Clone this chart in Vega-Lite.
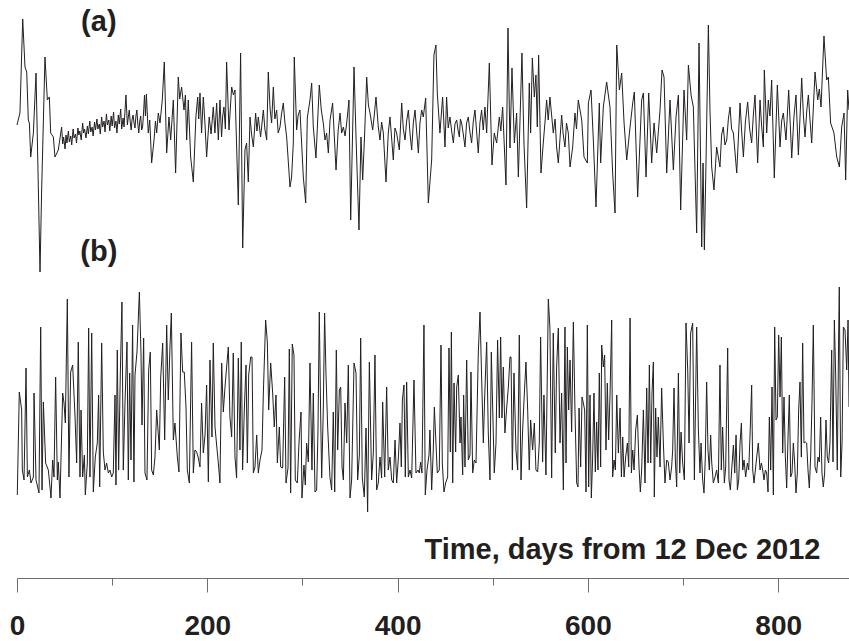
{
 "$schema": "https://vega.github.io/schema/vega-lite/v6.json",
 "width": 832, "height": 578,
 "autosize": {"type": "none"},
 "padding": {"left": 17, "top": 0, "right": 0, "bottom": 63},
 "background": "white",
 "config": {"view": {"stroke": null}},
 "datasets": {
  "a": [
   {"t":0,"v":0},{"t":3.1,"v":1.2},{"t":6,"v":10.6},{"t":8.4,"v":5.8},{"t":10.2,"v":5.3},{"t":11.9,"v":0.5},{"t":13,"v":0.2},{"t":14.4,"v":-3.2},{"t":17.2,"v":-0.8},{"t":20,"v":5.2},{"t":22.4,"v":-6.2},{"t":24.2,"v":-14.7},{"t":25.9,"v":-6.5},{"t":29.4,"v":6.8},{"t":31.9,"v":2.5},{"t":34,"v":2.8},{"t":35.4,"v":-0.8},{"t":38.2,"v":-1.2},{"t":39.9,"v":-3.2},{"t":43.4,"v":-2.5},{"t":46.9,"v":-0.2},
   {"t":48,"v":-1.9},{"t":49,"v":-1.2},{"t":50.5,"v":-2.4},{"t":51.5,"v":-1.0},{"t":52.5,"v":-1.8},{"t":54,"v":-0.6},{"t":55,"v":-1.7},{"t":56.5,"v":-1.1},{"t":57.5,"v":-2.0},{"t":59,"v":-0.4},{"t":60,"v":-1.3},{"t":61.5,"v":-0.9},{"t":62.5,"v":-1.8},{"t":64,"v":-0.3},{"t":65,"v":-1.0},{"t":66,"v":-0.6},{"t":67.5,"v":-1.5},{"t":69,"v":0.2},{"t":70,"v":-0.8},{"t":71,"v":-0.4},{"t":72.5,"v":-1.3},{"t":74,"v":-0.1},{"t":75,"v":-0.9},{"t":76.5,"v":0.4},{"t":77.5,"v":-0.7},{"t":79,"v":-0.2},{"t":80,"v":-1.1},{"t":81.5,"v":0.3},{"t":82.5,"v":-0.5},{"t":84,"v":0.6},{"t":85,"v":-0.4},{"t":86.5,"v":0.1},{"t":87.5,"v":-0.9},{"t":89,"v":0.8},{"t":90,"v":-0.2},{"t":91.5,"v":0.4},{"t":92.5,"v":-0.7},{"t":94,"v":1.1},{"t":95,"v":0.0},{"t":96.5,"v":0.5},{"t":97.5,"v":-0.6},{"t":99,"v":0.9},{"t":100,"v":-0.1},{"t":101.5,"v":1.3},{"t":102.5,"v":-0.3},{"t":104,"v":0.4},{"t":105,"v":-0.8},{"t":106.5,"v":1.0},{"t":107.5,"v":0.1},{"t":109,"v":1.6},{"t":110,"v":-0.4},{"t":111.5,"v":0.7},{"t":112.5,"v":-0.2},{"t":114.5,"v":3.0},
   {"t":116,"v":0.0},{"t":117,"v":0.8},{"t":118,"v":1.5},{"t":119,"v":0.3},{"t":120,"v":-0.5},{"t":121,"v":0.6},{"t":122,"v":1.0},{"t":123,"v":0.2},{"t":124,"v":-0.3},{"t":125,"v":0.9},{"t":126,"v":1.5},{"t":127,"v":0.1},{"t":128,"v":-0.8},{"t":129,"v":0.4},{"t":130,"v":0.9},{"t":131,"v":-0.5},{"t":132,"v":-0.2},{"t":133,"v":1.2},{"t":134,"v":3.0},{"t":135,"v":0.9},{"t":136,"v":3.1},{"t":137,"v":1.0},{"t":138,"v":-0.8},{"t":139.5,"v":0.5},
   {"t":141.5,"v":-3.8},{"t":144,"v":-1.5},{"t":145.5,"v":0.4},{"t":146.8,"v":-0.8},{"t":148.5,"v":1.2},{"t":150.3,"v":0.2},{"t":152.7,"v":2.5},{"t":154.8,"v":6.3},{"t":157.3,"v":-2.8},{"t":159.7,"v":0.8},{"t":161.5,"v":-1.5},{"t":164.3,"v":2.5},{"t":166.7,"v":-4.8},{"t":169.5,"v":4.8},{"t":171,"v":2.6},{"t":173,"v":3.8},{"t":175.5,"v":1.5},{"t":177,"v":3.0},{"t":178.3,"v":-1.5},{"t":180,"v":2.5},{"t":182.5,"v":-3.2},{"t":185.3,"v":-5.7},{"t":188,"v":0.8},{"t":189.9,"v":2.8},{"t":191,"v":0.6},{"t":192.3,"v":3.2},{"t":194,"v":-0.8},{"t":195.8,"v":2.8},{"t":197.5,"v":0.2},{"t":199.3,"v":-3.2},{"t":202,"v":0.8},{"t":204,"v":-0.9},{"t":206.3,"v":1.8},{"t":208,"v":-0.8},{"t":209.8,"v":2.2},{"t":211.6,"v":-1.5},{"t":213.3,"v":2.5},{"t":215,"v":-1.2},{"t":216.2,"v":0.9},{"t":217.5,"v":1.8},{"t":219,"v":-0.4},{"t":220.3,"v":6.3},{"t":222.8,"v":-0.5},{"t":225.6,"v":3.8},{"t":227.5,"v":3.0},{"t":229.1,"v":3.5},{"t":232.6,"v":-8},{"t":235,"v":7.2},{"t":237.2,"v":-12.3},{"t":239.6,"v":-2.5},{"t":241.3,"v":-1.8},{"t":243.1,"v":-5.7},{"t":244.9,"v":0.8},{"t":246.5,"v":-0.9},{"t":248.4,"v":-2.2},{"t":250.8,"v":1.2},{"t":252.2,"v":-0.6},{"t":253.6,"v":0.8},{"t":256,"v":-1.2},{"t":258.9,"v":1.5},{"t":260.5,"v":-0.4},{"t":262.4,"v":-1.5},{"t":264.1,"v":5.3},{"t":266,"v":1.6},{"t":267.6,"v":0.2},{"t":269.4,"v":3.8},{"t":271,"v":0.6},{"t":272.9,"v":1.5},{"t":274.5,"v":-0.8},{"t":276.4,"v":-0.2},{"t":278,"v":1.1},{"t":279.9,"v":2.2},{"t":281.5,"v":0.3},{"t":283.4,"v":-1.2},{"t":286.9,"v":-6.2},{"t":288.6,"v":-5.2},{"t":290.4,"v":-1.8},{"t":291.4,"v":6.8},{"t":293.9,"v":-0.5},{"t":295.5,"v":1.0},
   {"t":297.4,"v":1.5},{"t":300.9,"v":-5.2},{"t":303.4,"v":-7.8},{"t":305.1,"v":0.7},{"t":307.9,"v":2.5},{"t":309.7,"v":4.2},{"t":311.4,"v":-0.2},{"t":314.2,"v":-3.3},{"t":317.7,"v":4.0},{"t":319.8,"v":1.5},{"t":321.9,"v":0.2},{"t":323.7,"v":-1.5},{"t":325.4,"v":-0.8},{"t":327.2,"v":-2.8},{"t":329,"v":0.5},{"t":331.7,"v":2.2},{"t":335.3,"v":-4.5},{"t":337.5,"v":-0.6},{"t":339.5,"v":1.2},{"t":341.2,"v":-0.8},{"t":343,"v":-0.2},{"t":344.8,"v":-1.1},{"t":346.5,"v":0.2},{"t":348.9,"v":2.5},{"t":350.7,"v":-9.5},{"t":354.2,"v":5.8},{"t":356.3,"v":-1.2},{"t":359.4,"v":-10.5},{"t":361.5,"v":-1.2},{"t":363.3,"v":-5.5},{"t":365.4,"v":-0.8},{"t":367.5,"v":4.8},{"t":369.3,"v":2.0},{"t":371,"v":1.2},{"t":373.8,"v":-0.5},{"t":375.5,"v":1.0},{"t":377.3,"v":2.8},{"t":379.7,"v":-0.2},{"t":381.5,"v":-1.5},{"t":383.2,"v":0.3},{"t":385,"v":-0.8},{"t":387.8,"v":-5.7},{"t":390.2,"v":-0.8},{"t":392,"v":0.8},{"t":395.5,"v":-3.5},{"t":397.2,"v":-0.3},{"t":399,"v":-0.8},{"t":401.8,"v":-2.5},{"t":404.3,"v":2.2},{"t":406,"v":-0.4},{"t":407.8,"v":-1.5},{"t":409.5,"v":0.4},{"t":411.3,"v":1.5},{"t":413,"v":-0.8},{"t":414.8,"v":-2.5},{"t":416.5,"v":0.2},{"t":418.3,"v":1.5},{"t":420,"v":-0.6},{"t":421.8,"v":-2.8},{"t":423.5,"v":0.2},{"t":425.3,"v":1.5},{"t":427,"v":0.8},{"t":429.5,"v":2.7},{"t":432.3,"v":-7.8},{"t":435.8,"v":-3.5},{"t":438.2,"v":7},{"t":440.3,"v":8},{"t":441.7,"v":3.2},{"t":444.5,"v":-0.8},{"t":447.3,"v":2.8},{"t":449.8,"v":-2.2},{"t":451.5,"v":2.8},{"t":453.2,"v":-0.3},{"t":455,"v":0.8},{"t":456.8,"v":-0.6},{"t":458.6,"v":-1.8},{"t":460.3,"v":0.1},{"t":462.1,"v":0.5},{"t":463.5,"v":-0.5},{"t":464.9,"v":-1.2},{"t":466,"v":0.6},{"t":467.3,"v":0.2},{"t":469,"v":-0.9},{"t":470.8,"v":-2.2},{"t":472.5,"v":0.2},{"t":474.3,"v":0.8},{"t":476,"v":-0.7},{"t":477.8,"v":-1.8},{"t":479.5,"v":0.3},{"t":481.3,"v":1.5},{"t":483,"v":-0.6},{"t":484.8,"v":-2.8},{"t":486.5,"v":0.2},{"t":488.3,"v":1.5},{"t":490,"v":-0.5},{"t":491.8,"v":1.8},{"t":493.6,"v":-0.8},{"t":496.4,"v":6.2},{"t":499.2,"v":-4},{"t":501.6,"v":-0.8},{"t":504.1,"v":-1.8},{"t":506.9,"v":0.8},{"t":508.5,"v":-0.6},{"t":510.4,"v":1.8},{"t":513.9,"v":-6},{"t":516,"v":9.7},{"t":518.1,"v":-2.3},{"t":520.2,"v":5.7},{"t":522.7,"v":-1.8},{"t":525.1,"v":1.2},{"t":526.9,"v":-5.2},{"t":530.7,"v":7.2},{"t":532.8,"v":-1.8},{"t":535.6,"v":-8.3},{"t":538.4,"v":4.2},{"t":539.8,"v":-0.8},{"t":541.6,"v":6.7},{"t":543.7,"v":2.8},{"t":545.4,"v":5},{"t":546.8,"v":-0.2},{"t":548.2,"v":7},{"t":550.7,"v":-4.8},{"t":553.1,"v":-1.8},{"t":555,"v":0.4},{"t":556.6,"v":2.5},{"t":558.3,"v":0.5},{"t":560.1,"v":2.8},{"t":563.6,"v":-0.8},{"t":565.5,"v":0.6},{"t":567.1,"v":-2.2},{"t":568.9,"v":-3.8},{"t":572.4,"v":1},{"t":574,"v":-0.9},{"t":575.9,"v":-2.2},{"t":577.5,"v":0.2},{"t":579.4,"v":-0.8},{"t":581.2,"v":-4.2},{"t":584,"v":-2.2},{"t":586.4,"v":1.2},{"t":588,"v":-0.4},{"t":589.9,"v":2.5},
   {"t":593.5,"v":0.5},{"t":595.9,"v":-3.2},{"t":599.4,"v":-3.8},{"t":600.5,"v":2.2},{"t":603.3,"v":3.5},{"t":605.7,"v":-1.5},{"t":608.5,"v":-8.2},{"t":612,"v":2.2},{"t":613.4,"v":-3.8},{"t":616.2,"v":1.8},{"t":619.7,"v":4.3},{"t":623.2,"v":1.8},{"t":626,"v":-4.8},{"t":628.5,"v":-8.8},{"t":630.3,"v":8},{"t":633.1,"v":3.5},{"t":635.5,"v":5.2},{"t":638,"v":0.2},{"t":640.8,"v":-3.5},{"t":644.3,"v":-0.2},{"t":647.1,"v":2.2},{"t":648.8,"v":3.3},{"t":652.3,"v":-7.2},{"t":656.5,"v":2.5},{"t":658.3,"v":3.2},{"t":661.1,"v":-5.2},{"t":663.9,"v":3.2},{"t":667,"v":-3.8},{"t":669.5,"v":0.2},{"t":672.3,"v":-2.8},{"t":675.8,"v":1.5},{"t":677.9,"v":5.5},{"t":680,"v":4.8},{"t":682.8,"v":-4.8},{"t":686.3,"v":2.5},{"t":689.8,"v":-4.5},{"t":692.6,"v":0.8},{"t":695.1,"v":3},{"t":697.5,"v":-8.5},{"t":701,"v":3.5},{"t":703.8,"v":-1.5},{"t":705.6,"v":6},{"t":708.4,"v":3},{"t":710.8,"v":1.8},{"t":714.3,"v":-10.8},{"t":716.8,"v":8.2},{"t":719.6,"v":-12.2},{"t":721,"v":-3.8},{"t":722.4,"v":-12.5},{"t":724.1,"v":-3.8},{"t":726.6,"v":10},{"t":728.3,"v":1.5},{"t":730.1,"v":-4.2},{"t":732.5,"v":-6.5},{"t":735.3,"v":-2.2},{"t":738.8,"v":-4.2},{"t":740.5,"v":-1.0},{"t":742.3,"v":-0.2},{"t":744,"v":-2.0},{"t":745.9,"v":-1.5},{"t":747.6,"v":0.6},{"t":749.4,"v":1.8},{"t":751,"v":-0.4},{"t":752.9,"v":-0.8},{"t":756.4,"v":-4.8},{"t":759.9,"v":2.2},{"t":761.5,"v":-0.5},{"t":763.4,"v":-3.2},{"t":765.5,"v":0.3},{"t":767.9,"v":2.3},{"t":770,"v":-0.4},{"t":772.1,"v":-1.8},{"t":773.8,"v":0.9},{"t":775.6,"v":3},{"t":778.4,"v":-3.8},{"t":780.9,"v":2.5},{"t":782.5,"v":0.0},{"t":784.4,"v":-2.2},{"t":785.4,"v":5.5},{"t":787.9,"v":-0.8},{"t":789.6,"v":2.5},{"t":791.3,"v":0.9},{"t":793.1,"v":4.5},{"t":795.9,"v":-5.3},{"t":799.1,"v":4},{"t":801.9,"v":-2.2},{"t":803.6,"v":0.4},{"t":805.4,"v":1.2},{"t":808.2,"v":-1.5},{"t":811,"v":3.5},{"t":812.6,"v":0.2},{"t":814.2,"v":-3.3},{"t":816.5,"v":0.8},{"t":818.7,"v":3},{"t":821.2,"v":-3},{"t":824.7,"v":4.7},{"t":826.5,"v":0.9},{"t":828.2,"v":-1.2},{"t":830,"v":1.4},{"t":831.7,"v":3},{"t":833.5,"v":0.4},{"t":835.2,"v":-1.8},{"t":838.7,"v":5.3},{"t":841.5,"v":2.5},{"t":843.2,"v":3.6},{"t":845,"v":1.8},{"t":848.1,"v":8.9},{"t":850.9,"v":4.5},{"t":852.7,"v":4.8},{"t":855.1,"v":0.2},{"t":858.6,"v":-0.8},{"t":861.5,"v":-3.2},{"t":864.3,"v":-4.2},{"t":866.7,"v":-0.2},{"t":869.2,"v":1.2},{"t":870.9,"v":-5.5},{"t":873,"v":3.5},{"t":874.4,"v":1.5}
  ],
  "b": [
   {"t":0.3,"v":0.5},{"t":2.4,"v":10.8},{"t":4.9,"v":9},{"t":5.6,"v":3},{"t":7.4,"v":2},{"t":9.5,"v":13.2},{"t":10.9,"v":2.3},{"t":13,"v":3},{"t":14.7,"v":1.7},{"t":17.2,"v":2.3},{"t":17.9,"v":10.7},{"t":20,"v":2},{"t":21.7,"v":1.3},{"t":23.1,"v":0.7},{"t":24.9,"v":17.3},{"t":26.3,"v":1},{"t":27.7,"v":9.8},{"t":30.1,"v":3.7},{"t":32.9,"v":3},{"t":34.7,"v":1.3},{"t":35.7,"v":0.2},{"t":37.5,"v":4},{"t":38.9,"v":2.3},{"t":40.6,"v":12.3},{"t":42.4,"v":2},{"t":43.4,"v":3.8},{"t":45.2,"v":0.2},{"t":48,"v":10.7},{"t":49.4,"v":9.7},{"t":50.8,"v":7.7},{"t":52.9,"v":20.1},{"t":54.6,"v":2.3},{"t":56.4,"v":12.8},{"t":58.5,"v":13.5},{"t":61,"v":8.3},{"t":62.7,"v":3.7},{"t":64.4,"v":15.8},{"t":66.2,"v":2.3},{"t":67.3,"v":9},{"t":69,"v":2.3},{"t":70.8,"v":4.5},{"t":71.8,"v":0.5},{"t":73.9,"v":3.7},{"t":75.3,"v":17.2},{"t":76.7,"v":2.3},{"t":78.5,"v":16.7},{"t":80.2,"v":0.8},{"t":82.3,"v":4.3},{"t":84.4,"v":5.7},{"t":85.8,"v":10.5},{"t":86.9,"v":1.3},{"t":89,"v":15.7},{"t":90.7,"v":4.8},{"t":92.5,"v":3},{"t":94.2,"v":3.7},{"t":96,"v":2.7},{"t":97.7,"v":3},{"t":99.5,"v":2.3},{"t":101.2,"v":2.7},{"t":103,"v":10.5},{"t":104,"v":1.5},{"t":105.4,"v":15},{"t":106.8,"v":3},{"t":108.6,"v":12.7},{"t":110.3,"v":19.8},{"t":111.7,"v":3},{"t":113.5,"v":9.7},{"t":115.6,"v":15.8},{"t":117,"v":2},{"t":118.4,"v":12.7},{"t":119.8,"v":4},{"t":121.5,"v":17.5},{"t":122.9,"v":1.8},{"t":124,"v":12.5},{"t":126.1,"v":14.8},{"t":128.6,"v":20.8},{"t":130.3,"v":14.7},{"t":131.4,"v":7.5},{"t":133.1,"v":16.2},{"t":134.5,"v":2.7},{"t":136.6,"v":2},{"t":138.4,"v":13},{"t":140.1,"v":14.8},{"t":141.5,"v":3},{"t":143.3,"v":2.5},{"t":145,"v":4.3},{"t":146.8,"v":9},{"t":149.6,"v":5},{"t":151,"v":12.2},{"t":153.1,"v":15.7},{"t":155.2,"v":6},{"t":157.3,"v":17.5},{"t":159,"v":10},{"t":160.8,"v":15.4},{"t":162.2,"v":18.7},{"t":164.3,"v":6},{"t":166,"v":7.7},{"t":168.5,"v":4.3},{"t":170.2,"v":2.8},{"t":172.3,"v":16.7},{"t":174.1,"v":12.8},{"t":175.8,"v":12.8},{"t":177.6,"v":9.3},{"t":179,"v":3},{"t":181.1,"v":1.7},{"t":183.5,"v":15.8},{"t":185.3,"v":2.7},{"t":187,"v":5},{"t":188.8,"v":4.8},{"t":190.6,"v":4.2},{"t":192.3,"v":3.3},{"t":194,"v":9.7},{"t":195.8,"v":4.7},{"t":197.6,"v":6.5},{"t":199.3,"v":11.5},{"t":201.1,"v":1.8},{"t":202.8,"v":14},{"t":204.9,"v":6.3},{"t":206.3,"v":15.7},{"t":208.1,"v":7.3},{"t":209.8,"v":5.5},{"t":211.6,"v":3.7},{"t":213.3,"v":1.7},{"t":215.1,"v":13.7},{"t":216.8,"v":8.8},{"t":218.6,"v":11.3},{"t":220.3,"v":13.3},{"t":222.1,"v":15.3},{"t":223.8,"v":8.3},{"t":225.6,"v":6.3},{"t":227.3,"v":14.7},{"t":229.1,"v":4.3},{"t":230.8,"v":2.2},{"t":232.6,"v":14.2},{"t":234.3,"v":5},{"t":235.7,"v":15.8},{"t":237.1,"v":3},{"t":238.9,"v":9},{"t":240.7,"v":13.5},{"t":242.1,"v":3.7},{"t":243.5,"v":12.5},{"t":245.6,"v":14.3},{"t":247,"v":14.3},{"t":248.4,"v":2.7},{"t":250.1,"v":3.3},{"t":251.9,"v":6.5},{"t":253.6,"v":2.7},{"t":255.4,"v":4},{"t":257.5,"v":5},{"t":258.9,"v":10.7},{"t":261.3,"v":18},{"t":263.1,"v":15.8},{"t":264.5,"v":9},{"t":266.6,"v":13.7},{"t":268.7,"v":10.7},{"t":270.4,"v":7.3},{"t":272.2,"v":10.5},{"t":273.6,"v":3.7},{"t":275.7,"v":7.3},{"t":277.1,"v":3.3},{"t":279.2,"v":3.2},{"t":281.3,"v":12.3},{"t":282.7,"v":1.7},{"t":284.8,"v":3.2},{"t":286.2,"v":15.1},{"t":287.6,"v":0.7},{"t":289.3,"v":15.6},{"t":291.1,"v":14.5},{"t":292.5,"v":2},{"t":294.6,"v":1.7},{"t":296.4,"v":5.8},
   {"t":298.5,"v":8.8},{"t":299.5,"v":0.2},{"t":301.6,"v":3.5},{"t":303,"v":1.5},{"t":304.4,"v":5.7},{"t":306.2,"v":3.8},{"t":307.9,"v":13.7},{"t":310,"v":3},{"t":311.4,"v":10.7},{"t":313.2,"v":0.8},{"t":314.9,"v":1},{"t":316.3,"v":6.8},{"t":317.7,"v":18.8},{"t":319.1,"v":8.8},{"t":320.2,"v":2.2},{"t":321.9,"v":9},{"t":323.3,"v":18.7},{"t":324.7,"v":12.7},{"t":326.5,"v":7.3},{"t":328.9,"v":2.3},{"t":330.7,"v":1},{"t":332.4,"v":8.8},{"t":333.9,"v":0.8},{"t":335.6,"v":15},{"t":337,"v":5},{"t":338.8,"v":11},{"t":340.2,"v":11.3},{"t":341.6,"v":3.3},{"t":343,"v":2},{"t":344.7,"v":9.7},{"t":346.5,"v":5.7},{"t":348.2,"v":13.5},{"t":350,"v":0.2},{"t":351.7,"v":2},{"t":354.2,"v":13.7},{"t":356.3,"v":12.7},{"t":358,"v":2},{"t":359.8,"v":4.5},{"t":361.2,"v":16.2},{"t":362.9,"v":2.2},{"t":365,"v":0.3},{"t":366.8,"v":7.2},{"t":368.5,"v":-1.2},{"t":370.3,"v":13.8},{"t":372.7,"v":2},{"t":374.5,"v":4.7},{"t":376.2,"v":14.5},{"t":378,"v":1},{"t":379.7,"v":1.7},{"t":381.5,"v":4.3},{"t":383.2,"v":2.2},{"t":384.3,"v":9.8},{"t":386.4,"v":2.3},{"t":388.5,"v":11.3},{"t":390.2,"v":3},{"t":392,"v":4.3},{"t":393.8,"v":2},{"t":395.5,"v":1.7},{"t":397.3,"v":6},{"t":399,"v":1.7},{"t":400.8,"v":4.2},{"t":402.5,"v":7.7},{"t":403.9,"v":3.3},{"t":405,"v":10},{"t":406.7,"v":11.5},{"t":408.1,"v":2.3},{"t":409.5,"v":11.8},{"t":411.3,"v":2.3},{"t":413,"v":3},{"t":414.8,"v":2.2},{"t":417.2,"v":12},{"t":419.3,"v":2.7},{"t":421.4,"v":3},{"t":422.8,"v":2.7},{"t":424.2,"v":3.8},{"t":425.6,"v":2.7},{"t":427.7,"v":17.5},{"t":429.1,"v":0.5},{"t":430.9,"v":3},{"t":433,"v":4.5},{"t":434,"v":7},{"t":435.8,"v":1},{"t":437.5,"v":5},{"t":438.6,"v":9.3},{"t":440.3,"v":5.7},{"t":441.7,"v":2.7},{"t":443.8,"v":3},{"t":445.6,"v":15.5},{"t":447,"v":3.7},{"t":448.7,"v":0.8},{"t":450.5,"v":1.7},{"t":452.6,"v":2.3},{"t":454,"v":15.2},{"t":455.4,"v":4.8},{"t":456.5,"v":16.8},{"t":457.9,"v":1.7},{"t":459.3,"v":11.7},{"t":461,"v":4.8},{"t":462.1,"v":11.3},{"t":463.8,"v":12.5},{"t":465.6,"v":5.7},{"t":466.6,"v":8.3},{"t":468.4,"v":2.5},{"t":469.4,"v":10.5},{"t":470.8,"v":3.3},{"t":472.6,"v":14},{"t":474.3,"v":4},{"t":476.1,"v":4.5},{"t":477.1,"v":12.8},{"t":478.9,"v":2.7},{"t":480.6,"v":4},{"t":482.4,"v":3.7},{"t":484.8,"v":14.7},{"t":486.6,"v":18.8},{"t":488.3,"v":12.3},{"t":490.1,"v":5.7},{"t":491.5,"v":10.3},{"t":493.6,"v":15.8},{"t":495.3,"v":6.7},{"t":497.1,"v":2},{"t":498.5,"v":14.8},{"t":499.9,"v":9.3},{"t":501.6,"v":2.7},{"t":503.4,"v":5.7},{"t":505.1,"v":16},{"t":506.9,"v":8.2},{"t":508.3,"v":16.3},{"t":509.7,"v":8.2},{"t":511.1,"v":13.3},{"t":512.8,"v":6.7},{"t":514.6,"v":9.2},{"t":516.4,"v":11.3},{"t":518.1,"v":14.3},{"t":519.2,"v":14.3},{"t":520.6,"v":3},{"t":522.3,"v":12.7},{"t":524.4,"v":5},{"t":526.2,"v":3},{"t":527.9,"v":16.5},{"t":529.7,"v":2},{"t":531.4,"v":7},{"t":533.2,"v":10.7},{"t":534.9,"v":13.8},{"t":536.7,"v":9},{"t":538.4,"v":3},{"t":539.8,"v":8},{"t":541.9,"v":5},{"t":543.7,"v":7.7},{"t":545.4,"v":3},{"t":547.2,"v":2.8},{"t":548.9,"v":5.7},{"t":550.3,"v":16.3},{"t":552.4,"v":3.8},{"t":553.8,"v":10.5},{"t":555.9,"v":2.5},{"t":558.4,"v":20.1},{"t":560.1,"v":17.2},{"t":561.9,"v":2.2},{"t":563.6,"v":16.7},{"t":565.7,"v":4.7},{"t":567.1,"v":13.3},{"t":568.9,"v":17.2},{"t":570.7,"v":5.7},{"t":572.4,"v":10.7},{"t":574.2,"v":1},{"t":575.9,"v":17.3},{"t":577,"v":3.7},{"t":578.4,"v":15.3},{"t":579.8,"v":9},{"t":581.2,"v":14},{"t":582.9,"v":6.8},{"t":584.7,"v":17.8},{"t":586.4,"v":9},{"t":588.2,"v":1.7},{"t":589.6,"v":1.3},{"t":590.7,"v":9.2},
   {"t":592.4,"v":3.3},{"t":593.8,"v":10.3},{"t":595.2,"v":9.7},{"t":596.6,"v":9},{"t":598,"v":0.8},{"t":599.4,"v":17.5},{"t":600.8,"v":1.3},{"t":602.2,"v":10.5},{"t":603.6,"v":0.2},{"t":605,"v":4.3},{"t":606.4,"v":10.7},{"t":607.8,"v":2.8},{"t":609.2,"v":7.8},{"t":610.6,"v":3},{"t":612,"v":12.7},{"t":613.4,"v":3.3},{"t":614.5,"v":15.5},{"t":616.2,"v":13.3},{"t":617.6,"v":14.5},{"t":619,"v":5},{"t":620.4,"v":11.7},{"t":621.8,"v":6},{"t":623.2,"v":10.3},{"t":625,"v":18},{"t":626,"v":2.3},{"t":627.5,"v":4},{"t":628.9,"v":3},{"t":630.3,"v":10.5},{"t":632,"v":4.7},{"t":633.8,"v":9.2},{"t":635.2,"v":2.3},{"t":636.6,"v":6.3},{"t":638,"v":2.3},{"t":639.7,"v":4.3},{"t":641.5,"v":5.7},{"t":642.9,"v":3.3},{"t":644.3,"v":18.2},{"t":645.7,"v":2.7},{"t":647.1,"v":5},{"t":648.5,"v":3},{"t":650.2,"v":7},{"t":652,"v":8.5},{"t":653.7,"v":3.3},{"t":655.1,"v":0.8},{"t":656.5,"v":3},{"t":658.3,"v":9},{"t":660,"v":1.7},{"t":661.8,"v":11.2},{"t":663.2,"v":3.7},{"t":664.6,"v":13.5},{"t":666,"v":3.7},{"t":667.4,"v":10.8},{"t":668.8,"v":13.8},{"t":669.8,"v":0.3},{"t":671.2,"v":9.2},{"t":672.6,"v":4.3},{"t":674,"v":8.3},{"t":675.8,"v":3.3},{"t":677.5,"v":11.2},{"t":679.3,"v":5.7},{"t":681,"v":1.7},{"t":682.8,"v":4},{"t":684.5,"v":3.8},{"t":686.3,"v":2},{"t":688,"v":3.3},{"t":689.1,"v":5},{"t":690.5,"v":11.2},{"t":691.9,"v":4},{"t":693.3,"v":1.3},{"t":695.1,"v":12.7},{"t":696.5,"v":2.7},{"t":697.9,"v":6.8},{"t":699.6,"v":3.7},{"t":701.4,"v":2},{"t":703.1,"v":17.7},{"t":704.9,"v":13},{"t":706.3,"v":5.7},{"t":708,"v":16.7},{"t":710.1,"v":17.7},{"t":711.9,"v":2},{"t":714.3,"v":17.3},{"t":716.1,"v":7},{"t":717.8,"v":2.7},{"t":718.9,"v":5.7},{"t":720.6,"v":2},{"t":722,"v":0.7},{"t":723.4,"v":4.3},{"t":724.8,"v":11.8},{"t":726.2,"v":5},{"t":727.6,"v":3},{"t":729,"v":6.5},{"t":730.1,"v":3.8},{"t":731.8,"v":1.7},{"t":733.6,"v":2.3},{"t":735.3,"v":3},{"t":737.1,"v":1.7},{"t":738.8,"v":13.5},{"t":740.2,"v":3},{"t":741.6,"v":7.3},{"t":743.4,"v":1.7},{"t":744.8,"v":3.3},{"t":746.9,"v":15.2},{"t":748.3,"v":2},{"t":749.7,"v":1},{"t":751.1,"v":3},{"t":752.9,"v":5.5},{"t":754.3,"v":2.7},{"t":755.7,"v":6.5},{"t":757.1,"v":1},{"t":758.5,"v":2},{"t":759.9,"v":5.7},{"t":761.3,"v":7.7},{"t":762.7,"v":3},{"t":764.1,"v":4},{"t":765.8,"v":2.3},{"t":767.6,"v":3.7},{"t":769,"v":3},{"t":770.4,"v":6.5},{"t":772.1,"v":11.5},{"t":773.2,"v":3},{"t":774.6,"v":1.7},{"t":776,"v":3},{"t":777.4,"v":4.3},{"t":779.1,"v":5.7},{"t":780.9,"v":3},{"t":782.3,"v":3.7},{"t":783.7,"v":3},{"t":785.1,"v":2},{"t":786.5,"v":3},{"t":787.9,"v":2.7},{"t":789.3,"v":0.8},{"t":790.7,"v":8.3},{"t":792.1,"v":3},{"t":793.5,"v":11.3},{"t":794.9,"v":0.5},{"t":796.3,"v":17.3},{"t":797.7,"v":8},{"t":799.1,"v":8.3},{"t":800.5,"v":16.5},{"t":801.9,"v":10.3},{"t":803.3,"v":16.3},{"t":804.7,"v":4.7},{"t":806.1,"v":10.3},{"t":807.5,"v":4.3},{"t":808.9,"v":1.2},{"t":810.3,"v":6.2},{"t":811.7,"v":10.5},{"t":813.1,"v":2.3},{"t":814.5,"v":2.7},{"t":815.9,"v":5.7},{"t":817.3,"v":3.7},{"t":818.7,"v":0.7},{"t":820.1,"v":2.7},{"t":821.5,"v":9},{"t":822.9,"v":11.8},{"t":824.3,"v":4.3},{"t":825.7,"v":15.7},{"t":827.1,"v":5.7},{"t":828.5,"v":5.8},{"t":829.9,"v":5.7},{"t":831.3,"v":3},{"t":832.7,"v":1.2},{"t":834.1,"v":4.3},{"t":835.5,"v":9.7},{"t":836.9,"v":17.5},{"t":838.7,"v":3.3},{"t":840.4,"v":2.7},{"t":841.8,"v":4.3},{"t":843.2,"v":3.8},{"t":844.6,"v":8.3},{"t":846,"v":2.7},{"t":847.4,"v":1.3},{"t":848.8,"v":2.7},{"t":850.2,"v":8},{"t":851.6,"v":4.3},{"t":853,"v":3.7},{"t":854.4,"v":5.7},{"t":856.2,"v":15},{"t":857.6,"v":3.8},{"t":859,"v":18},{"t":860.4,"v":12.5},{"t":862.1,"v":3},{"t":863.5,"v":16.3},{"t":864.2,"v":21.3},{"t":865.7,"v":2.3},{"t":867.1,"v":5.7},{"t":868.5,"v":17.3},{"t":870.2,"v":17},{"t":872,"v":13},{"t":873.4,"v":18},{"t":874.4,"v":9.3}
  ]
 },
 "layer": [
  {
   "data": {"name": "a"},
   "mark": {"type": "line", "color": "#231f20", "strokeWidth": 1},
   "encoding": {
    "x": {"field": "t", "type": "quantitative", "scale": {"domain": [0, 874.4], "nice": false, "zero": false},
     "axis": {"orient": "bottom", "values": [0, 200, 400, 600, 800], "grid": false, "tickSize": 14, "tickWidth": 1, "tickColor": "#6d6e71", "domainColor": "#6d6e71", "domainWidth": 1,
      "labelFont": "Liberation Sans", "labelFontSize": 28, "labelFontWeight": "bold", "labelColor": "#231f20", "labelBaseline": "alphabetic", "labelPadding": 42, "labelFlush": false, "labelOverlap": false, "labelBound": false,
      "title": "Time, days from 12 Dec 2012", "titleFont": "Liberation Sans", "titleFontSize": 29, "titleFontWeight": "bold", "titleColor": "#231f20", "titleX": 803, "titleY": -19.7, "titleAlign": "right", "titleBaseline": "alphabetic"}},
    "y": {"field": "v", "type": "quantitative", "scale": {"domain": [-45.3, 12.5], "nice": false, "zero": false}, "axis": null}
   }
  },
  {
   "data": {"values": [{"t": 86, "v": 9.4, "label": "(a)"}]},
   "mark": {"type": "text", "font": "Liberation Sans", "fontSize": 29, "fontWeight": "bold", "color": "#231f20", "align": "center", "baseline": "alphabetic"},
   "encoding": {
    "x": {"field": "t", "type": "quantitative", "axis": null},
    "y": {"field": "v", "type": "quantitative", "scale": {"domain": [-45.3, 12.5], "nice": false, "zero": false}, "axis": null},
    "text": {"field": "label"}
   }
  },
  {
   "data": {"name": "b"},
   "mark": {"type": "line", "color": "#231f20", "strokeWidth": 1},
   "encoding": {
    "x": {"field": "t", "type": "quantitative",
     "axis": {"orient": "bottom", "values": [100, 300, 500, 700], "grid": false, "tickSize": 7, "tickWidth": 1, "tickColor": "#6d6e71", "domain": false, "labels": false, "title": null}},
    "y": {"field": "v", "type": "quantitative", "scale": {"domain": [-7.8, 50], "nice": false, "zero": false}, "axis": null}
   }
  },
  {
   "data": {"values": [{"t": 86, "v": 23.9, "label": "(b)"}]},
   "mark": {"type": "text", "font": "Liberation Sans", "fontSize": 29, "fontWeight": "bold", "color": "#231f20", "align": "center", "baseline": "alphabetic"},
   "encoding": {
    "x": {"field": "t", "type": "quantitative", "axis": null},
    "y": {"field": "v", "type": "quantitative", "scale": {"domain": [-7.8, 50], "nice": false, "zero": false}, "axis": null},
    "text": {"field": "label"}
   }
  }
 ],
 "resolve": {"scale": {"y": "independent"}, "axis": {"x": "independent"}}
}
